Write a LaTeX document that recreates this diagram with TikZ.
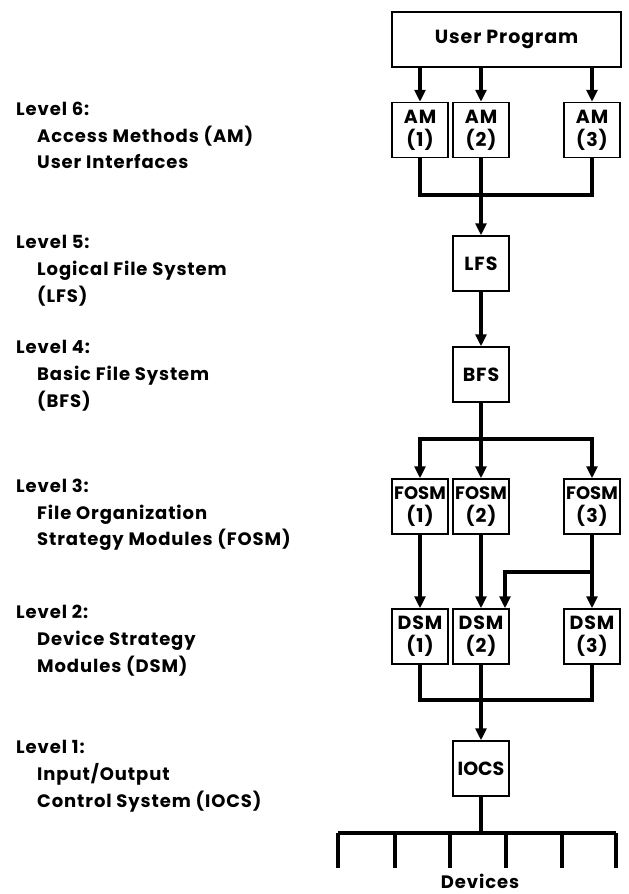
\documentclass[tikz,border=0pt]{standalone}
\usepackage{fontspec}
\setmainfont{Poppins}[LetterSpace=5]
\newfontfamily\tightfont{Poppins}
\usetikzlibrary{arrows.meta}

\tikzset{
  >={Triangle[length=12pt,width=11pt]},
  module/.style={draw, line width=1.5pt, minimum width=56pt, minimum height=55pt,
    inner sep=0pt, align=center, font=\fontsize{19}{23}\selectfont\bfseries},
  conn/.style={line width=3.2pt},
  lbl/.style={anchor=base west, inner sep=0pt, font=\fontsize{18}{21}\selectfont\bfseries}
}

\begin{document}
\begin{tikzpicture}[x=1pt,y=-1pt]
    \useasboundingbox (0,0) rectangle (629,894);

    % Modules
    \node[module, minimum width=229pt] (prog) at (506.5,39.5) {User Program};
    \node[module] (am1) at (420,130) {AM\\(1)};
    \node[module] (am2) at (481,130) {AM\\(2)};
    \node[module] (am3) at (592,130) {AM\\(3)};
    \node[module] (lfs) at (481,263.5) {LFS};
    \node[module] (bfs) at (481,374.5) {BFS};
    \node[module] (fosm1) at (420,506.5) {{\tightfont\fontsize{18}{23}\selectfont FOSM}\\(1)};
    \node[module] (fosm2) at (481,506.5) {{\tightfont\fontsize{18}{23}\selectfont FOSM}\\(2)};
    \node[module] (fosm3) at (592,506.5) {{\tightfont\fontsize{18}{23}\selectfont FOSM}\\(3)};
    \node[module] (dsm1) at (420,636.5) {DSM\\(1)};
    \node[module] (dsm2) at (481,636.5) {DSM\\(2)};
    \node[module] (dsm3) at (592,636.5) {DSM\\(3)};
    \node[module] (iocs) at (481,768.5) {{\tightfont IOCS}};

    % Junctions
    \coordinate (amjoin) at (481,195);
    \coordinate (fosmsplit) at (481,439);
    \coordinate (cross) at (592,572);
    \coordinate (dsmjoin) at (481,700);
    \coordinate (busL) at (338,833);
    \coordinate (busR) at (616,833);

    % Level 6
    \draw[conn,->] (am1 |- prog.south) -- (am1.north);
    \draw[conn,->] (am2 |- prog.south) -- (am2.north);
    \draw[conn,->] (am3 |- prog.south) -- (am3.north);
    \draw[conn] (am1.south) |- (amjoin) -| (am3.south);
    \draw[conn] (am2.south) -- (amjoin);
    \draw[conn,->] (amjoin) -- (lfs.north);

    % Levels 5 and 4
    \draw[conn,->] (lfs.south) -- (bfs.north);
    \draw[conn] (bfs.south) -- (fosmsplit);
    \draw[conn,->] (fosmsplit) -| (fosm1.north);
    \draw[conn,->] (fosmsplit) -| (fosm3.north);
    \draw[conn,->] (fosmsplit) -- (fosm2.north);

    % Level 3 to 2
    \draw[conn,->] (fosm1.south) -- (dsm1.north);
    \draw[conn,->] (fosm2.south) -- (dsm2.north);
    \draw[conn,->] (fosm3.south) -- (dsm3.north);
    \draw[conn,->] (cross) -| ([xshift=24pt]dsm2.north);

    % Level 1
    \draw[conn] (dsm1.south) |- (dsmjoin) -| (dsm3.south);
    \draw[conn] (dsm2.south) -- (dsmjoin);
    \draw[conn,->] (dsmjoin) -- (iocs.north);
    \draw[conn] (iocs.south) -- (iocs.south |- busL);
    \draw[conn] (busL) -- (busR);
    \foreach \x in {338,395,450,506,562,616}
        \draw[conn] (\x,833) -- (\x,868);
    \node[lbl, anchor=base] (dev) at (480,888) {Devices};

    % Level labels
    \node[lbl] (l6) at (16,115) {Level 6:};
    \node[lbl] (l6a) at (37,142) {Access Methods (AM)};
    \node[lbl] (l6b) at (37,168) {User Interfaces};
    \node[lbl] (l5) at (16,248) {Level 5:};
    \node[lbl] (l5a) at (37,275) {Logical File System};
    \node[lbl] (l5b) at (37,302) {(LFS)};
    \node[lbl] (l4) at (16,353) {Level 4:};
    \node[lbl] (l4a) at (37,380) {Basic File System};
    \node[lbl] (l4b) at (37,407) {(BFS)};
    \node[lbl] (l3) at (16,492) {Level 3:};
    \node[lbl] (l3a) at (37,519) {File Organization};
    \node[lbl] (l3b) at (37,545) {Strategy Modules (FOSM)};
    \node[lbl] (l2) at (16,618) {Level 2:};
    \node[lbl] (l2a) at (37,645) {Device Strategy};
    \node[lbl] (l2b) at (37,672) {Modules (DSM)};
    \node[lbl] (l1) at (16,753) {Level 1:};
    \node[lbl] (l1a) at (37,780) {Input/Output};
    \node[lbl] (l1b) at (37,807) {Control System (IOCS)};
\end{tikzpicture}
\end{document}
